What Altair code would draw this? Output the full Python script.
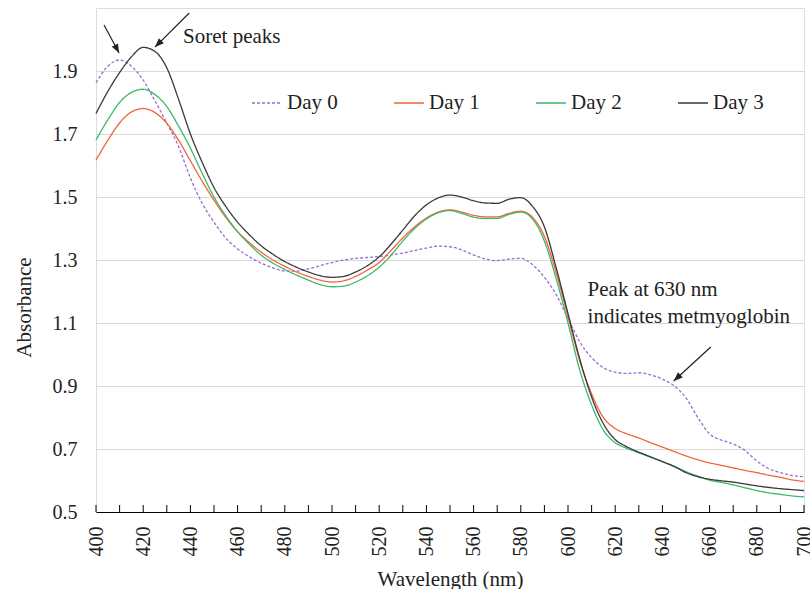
import altair as alt
import pandas as pd

# ---------------- data ----------------
wavelength = [400, 405, 410, 415, 420, 425, 430, 435, 440, 445, 450, 455, 460, 465, 470,
              475, 480, 485, 490, 495, 500, 505, 510, 515, 520, 525, 530, 535, 540, 545,
              550, 555, 560, 565, 570, 575, 580, 585, 590, 595, 600, 605, 610, 615, 620,
              625, 630, 635, 640, 645, 650, 655, 660, 665, 670, 675, 680, 685, 690, 695, 700]

day0 = [1.863, 1.915, 1.935, 1.915, 1.871, 1.805, 1.735, 1.660, 1.560, 1.480, 1.420, 1.370,
        1.335, 1.310, 1.290, 1.275, 1.265, 1.265, 1.272, 1.282, 1.292, 1.300, 1.305, 1.308,
        1.311, 1.316, 1.322, 1.330, 1.338, 1.344, 1.342, 1.332, 1.316, 1.303, 1.298, 1.303,
        1.305, 1.285, 1.245, 1.190, 1.115, 1.040, 0.990, 0.958, 0.944, 0.940, 0.942, 0.935,
        0.922, 0.900, 0.862, 0.800, 0.748, 0.728, 0.716, 0.695, 0.662, 0.638, 0.625, 0.616, 0.612]

day1 = [1.617, 1.680, 1.735, 1.770, 1.781, 1.768, 1.734, 1.680, 1.615, 1.550, 1.490, 1.435,
        1.390, 1.355, 1.325, 1.300, 1.280, 1.262, 1.248, 1.236, 1.230, 1.234, 1.248, 1.268,
        1.292, 1.330, 1.370, 1.405, 1.433, 1.452, 1.459, 1.452, 1.442, 1.437, 1.437, 1.448,
        1.455, 1.435, 1.375, 1.260, 1.120, 0.980, 0.875, 0.800, 0.765, 0.748, 0.735, 0.720,
        0.706, 0.692, 0.678, 0.666, 0.656, 0.648, 0.640, 0.632, 0.625, 0.617, 0.610, 0.602, 0.597]

day2 = [1.681, 1.745, 1.800, 1.832, 1.842, 1.825, 1.787, 1.725, 1.655, 1.575, 1.500, 1.440,
        1.390, 1.350, 1.315, 1.290, 1.270, 1.252, 1.236, 1.222, 1.215, 1.217, 1.230, 1.250,
        1.277, 1.315, 1.360, 1.400, 1.430, 1.450, 1.457, 1.448, 1.436, 1.432, 1.432, 1.445,
        1.452, 1.430, 1.360, 1.240, 1.100, 0.950, 0.840, 0.760, 0.720, 0.702, 0.688, 0.674,
        0.660, 0.644, 0.628, 0.614, 0.601, 0.594, 0.586, 0.577, 0.568, 0.561, 0.556, 0.551, 0.548]

day3 = [1.765, 1.835, 1.895, 1.945, 1.975, 1.962, 1.910, 1.810, 1.700, 1.610, 1.530, 1.470,
        1.420, 1.380, 1.345, 1.318, 1.295, 1.277, 1.262, 1.250, 1.245, 1.248, 1.262, 1.282,
        1.310, 1.350, 1.395, 1.440, 1.475, 1.497, 1.506, 1.500, 1.488, 1.481, 1.480, 1.493,
        1.498, 1.470, 1.405, 1.275, 1.130, 0.985, 0.865, 0.780, 0.730, 0.707, 0.690, 0.675,
        0.660, 0.645, 0.625, 0.612, 0.604, 0.599, 0.595, 0.589, 0.583, 0.578, 0.574, 0.571, 0.568]

series_names = ["Day 0", "Day 1", "Day 2", "Day 3"]
series_values = [day0, day1, day2, day3]
series_colors = ["#9B6BD0", "#F4623A", "#3DB86A", "#3A3A3A"]
series_dash = [[3, 2], [1, 0], [1, 0], [1, 0]]

y_ticks = [0.5, 0.7, 0.9, 1.1, 1.3, 1.5, 1.7, 1.9]
x_labels = [400, 420, 440, 460, 480, 500, 520, 540, 560, 580, 600, 620, 640, 660, 680, 700]
x_minor = [400, 410, 420, 430, 440, 450, 460, 470, 480, 490, 500, 510, 520, 530, 540, 550,
           560, 570, 580, 590, 600, 610, 620, 630, 640, 650, 660, 670, 680, 690, 700]

# annotation texts
note_text = ["Soret peaks", "Peak at 630 nm", "indicates metmyoglobin"]
note_x = [436.9, 608.3, 608.3]
note_y = [2.008, 1.205, 1.119]

# arrows (tail -> tip)
arrow_x = [403.4, 439.5, 660.5]
arrow_y = [2.046, 2.084, 1.024]
arrow_x2 = [409.8, 425.0, 644.8]
arrow_y2 = [1.957, 1.976, 0.916]
arrow_angle = [151.8, 225.0, 227.4]

# ---------------- build ----------------
FONT = "Liberation Serif, Times New Roman, DejaVu Serif, serif"
W, H = 708, 504

rows = []
for name, vals in zip(series_names, series_values):
    for w, a in zip(wavelength, vals):
        rows.append({"wavelength": w, "absorbance": a, "series": name})
df = pd.DataFrame(rows)

xscale = alt.Scale(domain=[400, 700], nice=False, zero=False)
yscale = alt.Scale(domain=[0.5, 2.1], nice=False, zero=False)

legend_def = alt.Legend(title=None, orient="none", legendX=155, legendY=79,
                        direction="horizontal", symbolType="stroke",
                        symbolSize=900, symbolStrokeWidth=1.3,
                        labelFont=FONT, labelFontSize=21, labelColor="#222222",
                        labelOffset=4, columnPadding=53)

lines = alt.Chart(df).mark_line(interpolate="monotone", strokeWidth=1.3).encode(
    x=alt.X("wavelength:Q", scale=xscale,
            axis=alt.Axis(values=x_labels, grid=False, ticks=False, domain=True,
                          domainColor="#000000", domainWidth=1,
                          labelAngle=270, labelAlign="right", labelBaseline="middle",
                          labelPadding=14, labelFont=FONT, labelFontSize=20,
                          labelColor="#222222", labelOverlap=False,
                          title="Wavelength (nm)", titleFont=FONT, titleFontSize=21,
                          titleFontWeight="normal", titleColor="#222222",
                          titleY=67, titleBaseline="middle")),
    y=alt.Y("absorbance:Q", scale=yscale,
            axis=alt.Axis(values=y_ticks, format=".1f", grid=True, gridColor="#D9D9D9",
                          gridWidth=1, ticks=False, domain=False,
                          labelPadding=19, labelFont=FONT, labelFontSize=20,
                          labelColor="#222222",
                          title="Absorbance", titleFont=FONT, titleFontSize=21,
                          titleFontWeight="normal", titleColor="#222222",
                          titleAngle=270, titleX=-72, titleY=299,
                          titleAlign="center", titleBaseline="middle")),
    color=alt.Color("series:N",
                    scale=alt.Scale(domain=series_names, range=series_colors),
                    legend=legend_def),
    strokeDash=alt.StrokeDash("series:N",
                              scale=alt.Scale(domain=series_names, range=series_dash),
                              legend=legend_def),
    order=alt.Order("wavelength:Q"),
)

tick_df = pd.DataFrame({"wavelength": x_minor, "absorbance": [0.5] * len(x_minor)})
ticks = alt.Chart(tick_df).mark_rule(color="#000000", strokeWidth=1).encode(
    x=alt.X("wavelength:Q", scale=xscale),
    y=alt.Y("absorbance:Q", scale=yscale),
    y2=alt.value(H - 7),
)

note_df = pd.DataFrame({"wavelength": note_x, "absorbance": note_y, "text": note_text})
notes = alt.Chart(note_df).mark_text(align="left", baseline="middle", font=FONT,
                                     fontSize=21, color="#222222").encode(
    x=alt.X("wavelength:Q", scale=xscale),
    y=alt.Y("absorbance:Q", scale=yscale),
    text="text:N",
)

arrow_df = pd.DataFrame({"wavelength": arrow_x, "absorbance": arrow_y,
                         "wavelength2": arrow_x2, "absorbance2": arrow_y2,
                         "angle": arrow_angle})
shafts = alt.Chart(arrow_df).mark_rule(color="#222222", strokeWidth=1.2).encode(
    x=alt.X("wavelength:Q", scale=xscale),
    y=alt.Y("absorbance:Q", scale=yscale),
    x2="wavelength2:Q",
    y2="absorbance2:Q",
)
heads = alt.Chart(arrow_df).mark_point(shape="M0,0L-0.7,1.8L0.7,1.8Z", filled=True,
                                       size=100, color="#222222", opacity=1,
                                       strokeWidth=0).encode(
    x=alt.X("wavelength2:Q", scale=xscale),
    y=alt.Y("absorbance2:Q", scale=yscale),
    angle=alt.Angle("angle:Q", scale=None),
)

chart = alt.layer(lines, ticks, shafts, heads, notes).properties(
    width=W, height=H,
    autosize=alt.AutoSizeParams(type="none"),
    padding={"left": 96, "top": 8, "right": 6, "bottom": 77},
).configure_view(stroke=None).configure(background="white")

chart.save("out.html", embed_options={"renderer": "svg", "actions": False})
